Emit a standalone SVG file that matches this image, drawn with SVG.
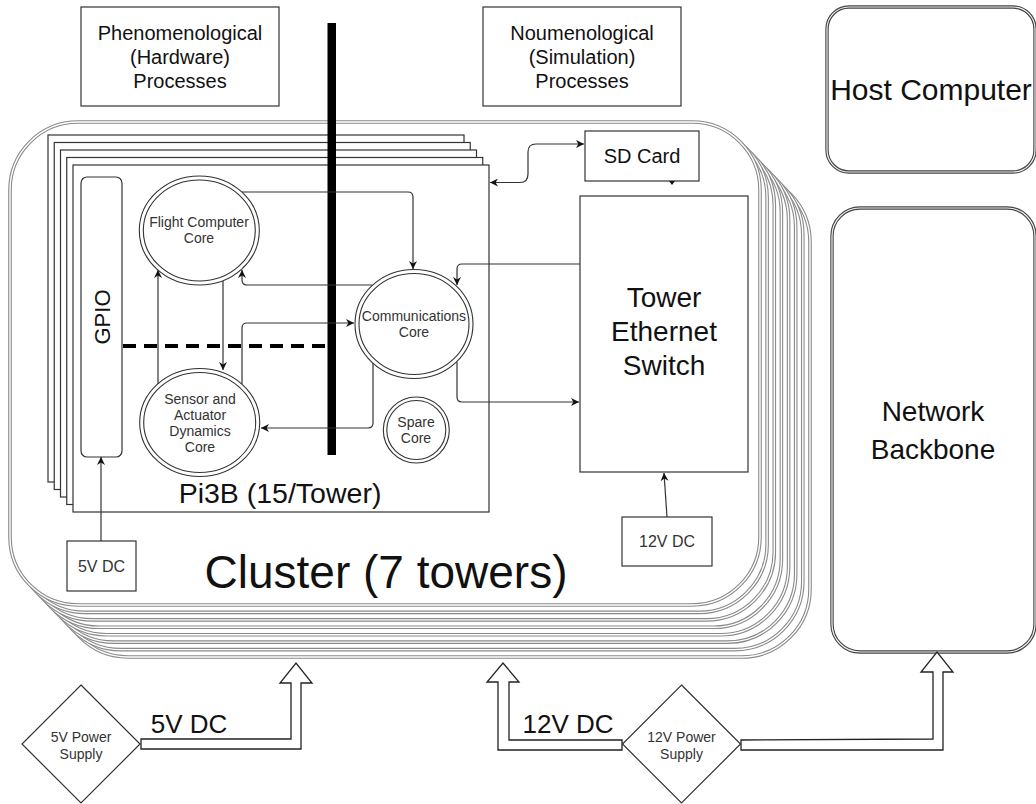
<svg xmlns="http://www.w3.org/2000/svg" width="1036" height="804" viewBox="0 0 1036 804">
<style>
text{font-family:"Liberation Sans",Arial,Helvetica,sans-serif;fill:#111}
.sm{fill:#333}
.clo{fill:#fff;stroke:#8a8a8a;stroke-width:3.6}
.cli{fill:none;stroke:#fff;stroke-width:1.4}
.box{fill:#fff;stroke:#333;stroke-width:1.2}
.pi{fill:#fff;stroke:#333;stroke-width:1.2}
.ell{fill:#fff;stroke:#333;stroke-width:1.1}
.elli{fill:none;stroke:#333;stroke-width:1.1}
.hco{fill:#fff;stroke:#444;stroke-width:3.4}
.hci{fill:none;stroke:#eee;stroke-width:1.2}
.c{fill:none;stroke:#333;stroke-width:1.2}
.flex{fill:#fff;stroke:#222;stroke-width:1.3;stroke-linejoin:miter}
</style>
<defs>
<marker id="ah" viewBox="0 0 10 10" refX="10" refY="5" markerWidth="8" markerHeight="8" markerUnits="userSpaceOnUse" orient="auto-start-reverse">
<path d="M0,0 L10,5 L0,10 L3,5 z" fill="#111"/>
</marker>
</defs>

<g id="top-labels">
<g id="phenomenological">
<rect class="box" x="81" y="7" width="198" height="99"/>
<text x="180" y="40" font-size="20" text-anchor="middle">Phenomenological</text>
<text x="180" y="64" font-size="20" text-anchor="middle">(Hardware)</text>
<text x="180" y="88" font-size="20" text-anchor="middle">Processes</text>
</g>
<g id="noumenological">
<rect class="box" x="483" y="7" width="198" height="99"/>
<text x="582" y="40" font-size="20" text-anchor="middle">Noumenological</text>
<text x="582" y="64" font-size="20" text-anchor="middle">(Simulation)</text>
<text x="582" y="88" font-size="20" text-anchor="middle">Processes</text>
</g>
</g>

<g id="cluster">
<rect class="clo" x="60" y="174" width="750" height="483" rx="68"/><rect class="cli" x="60" y="174" width="750" height="483" rx="68"/>
<rect class="clo" x="52.8" y="166.6" width="750" height="483" rx="68"/><rect class="cli" x="52.8" y="166.6" width="750" height="483" rx="68"/>
<rect class="clo" x="45.7" y="159.1" width="750" height="483" rx="68"/><rect class="cli" x="45.7" y="159.1" width="750" height="483" rx="68"/>
<rect class="clo" x="38.6" y="151.7" width="750" height="483" rx="68"/><rect class="cli" x="38.6" y="151.7" width="750" height="483" rx="68"/>
<rect class="clo" x="31.4" y="144.3" width="750" height="483" rx="68"/><rect class="cli" x="31.4" y="144.3" width="750" height="483" rx="68"/>
<rect class="clo" x="24.3" y="136.9" width="750" height="483" rx="68"/><rect class="cli" x="24.3" y="136.9" width="750" height="483" rx="68"/>
<rect class="clo" x="17.1" y="129.4" width="750" height="483" rx="68"/><rect class="cli" x="17.1" y="129.4" width="750" height="483" rx="68"/>
<rect class="clo" x="10" y="122" width="750" height="483" rx="68"/><rect class="cli" x="10" y="122" width="750" height="483" rx="68"/>
<text x="386" y="588" font-size="46" text-anchor="middle">Cluster (7 towers)</text>
</g>

<g id="pi3b">
<rect class="pi" x="48" y="135" width="416" height="347"/>
<rect class="pi" x="54.25" y="142.5" width="416" height="347"/>
<rect class="pi" x="60.5" y="150" width="416" height="347"/>
<rect class="pi" x="66.75" y="157.5" width="416" height="347"/>
<rect class="pi" x="73" y="165" width="416" height="347"/>
<text x="280" y="503" font-size="28.5" text-anchor="middle">Pi3B (15/Tower)</text>
</g>

<g id="gpio">
<rect class="box" x="81" y="177" width="41" height="280" rx="6"/>
<text transform="translate(101.5,317) rotate(-90)" x="0" y="8" font-size="22" text-anchor="middle">GPIO</text>
</g>

<g id="flight-computer-core">
<ellipse class="ell" cx="199.3" cy="230.5" rx="60" ry="54.5"/>
<ellipse class="elli" cx="199.3" cy="230.5" rx="56" ry="50.5"/>
<text class="sm" x="199" y="227" font-size="14" text-anchor="middle">Flight Computer</text>
<text class="sm" x="199" y="243" font-size="14" text-anchor="middle">Core</text>
</g>

<g id="communications-core">
<ellipse class="ell" cx="414" cy="324" rx="59" ry="54.5"/>
<ellipse class="elli" cx="414" cy="324" rx="55" ry="50.5"/>
<text class="sm" x="414" y="321" font-size="14" text-anchor="middle">Communications</text>
<text class="sm" x="414" y="337" font-size="14" text-anchor="middle">Core</text>
</g>

<g id="sensor-actuator-core">
<ellipse class="ell" cx="199.7" cy="422.5" rx="60" ry="54"/>
<ellipse class="elli" cx="199.7" cy="422.5" rx="56" ry="50"/>
<text class="sm" x="200" y="404" font-size="14" text-anchor="middle">Sensor and</text>
<text class="sm" x="200" y="420" font-size="14" text-anchor="middle">Actuator</text>
<text class="sm" x="200" y="436" font-size="14" text-anchor="middle">Dynamics</text>
<text class="sm" x="200" y="452" font-size="14" text-anchor="middle">Core</text>
</g>

<g id="spare-core">
<circle class="ell" cx="416.3" cy="430" r="33"/>
<circle class="elli" cx="416.3" cy="430" r="29.5"/>
<text class="sm" x="416" y="427" font-size="14" text-anchor="middle">Spare</text>
<text class="sm" x="416" y="443" font-size="14" text-anchor="middle">Core</text>
</g>

<g id="divider">
<rect x="327.5" y="23" width="8.5" height="432" fill="#000"/>
<line x1="123" y1="346" x2="327" y2="346" stroke="#000" stroke-width="4" stroke-dasharray="13 8"/>
</g>

<g id="sd-card">
<rect class="box" x="585" y="131" width="114" height="50"/>
<text x="642" y="163" font-size="20" text-anchor="middle">SD Card</text>
</g>

<g id="tower-ethernet-switch">
<rect class="box" x="580" y="196" width="168" height="276"/>
<text x="664" y="307" font-size="28" text-anchor="middle">Tower</text>
<text x="664" y="341" font-size="28" text-anchor="middle">Ethernet</text>
<text x="664" y="375" font-size="28" text-anchor="middle">Switch</text>
</g>

<g id="dc-5v">
<rect class="box" x="67" y="541" width="69" height="50"/>
<text class="sm" x="101.5" y="572" font-size="16" text-anchor="middle">5V DC</text>
</g>

<g id="dc-12v">
<rect class="box" x="622" y="517" width="90" height="49"/>
<text class="sm" x="667" y="547" font-size="16" text-anchor="middle">12V DC</text>
</g>

<g id="host-computer">
<rect class="hco" x="827" y="7" width="208" height="165" rx="22"/>
<rect class="hci" x="827" y="7" width="208" height="165" rx="22"/>
<text x="931" y="100" font-size="30" text-anchor="middle">Host Computer</text>
</g>

<g id="network-backbone">
<rect class="hco" x="832" y="208" width="203" height="444" rx="28"/>
<rect class="hci" x="832" y="208" width="203" height="444" rx="28"/>
<text x="933" y="421" font-size="28" text-anchor="middle">Network</text>
<text x="933" y="459" font-size="28" text-anchor="middle">Backbone</text>
</g>

<g id="psu-5v">
<polygon class="box" points="81,685 140,744 81,803 22,744"/>
<text class="sm" x="81" y="742" font-size="14" text-anchor="middle">5V Power</text>
<text class="sm" x="81" y="759" font-size="14" text-anchor="middle">Supply</text>
</g>

<g id="psu-12v">
<polygon class="box" points="681.5,685 740.5,744 681.5,803 622.5,744"/>
<text class="sm" x="681.5" y="742" font-size="14" text-anchor="middle">12V Power</text>
<text class="sm" x="681.5" y="759" font-size="14" text-anchor="middle">Supply</text>
</g>

<g id="connectors">
<path class="c" d="M101,541 L101,457" marker-end="url(#ah)"/>
<path class="c" d="M158,384 L158,270" marker-end="url(#ah)"/>
<path class="c" d="M223,281 L223,370" marker-end="url(#ah)"/>
<path class="c" d="M372,285 L247,285 Q242,285 242,280 L242,270" marker-end="url(#ah)"/>
<path class="c" d="M242,192 L408,192 Q413,192 413,197 L413,269" marker-end="url(#ah)"/>
<path class="c" d="M242,384 L242,328 Q242,323 247,323 L354,323" marker-end="url(#ah)"/>
<path class="c" d="M373,363 L373,423 Q373,428 368,428 L261,428" marker-end="url(#ah)"/>
<path class="c" d="M457,362 L457,397 Q457,402 462,402 L579,402" marker-end="url(#ah)"/>
<path class="c" d="M580,264 L462,264 Q457,264 457,269 L457,285" marker-end="url(#ah)"/>
<path class="c" d="M490,182.5 L520,182.5 Q528,182.5 528,174 L528,152 Q528,144 536,144 L584,144" marker-start="url(#ah)" marker-end="url(#ah)"/>
<path d="M669,181 L675,181 L672,185 z" fill="#111"/>
<path class="c" d="M667,517 L664,473" marker-end="url(#ah)"/>
<polygon class="flex" points="141,739 291,739 291,683 280,683 296,663 312,683 301,683 301,749 141,749"/>
<text x="189" y="733" font-size="26" text-anchor="middle">5V DC</text>
<polygon class="flex" points="622,740 509,740 509,682 519,682 503,663 487,682 498,682 498,750 622,750"/>
<text x="568" y="733" font-size="26" text-anchor="middle">12V DC</text>
<polygon class="flex" points="741,740 933,739 933,672 921,672 937,652 953,672 943,672 943,750 741,750"/>
</g>
</svg>
